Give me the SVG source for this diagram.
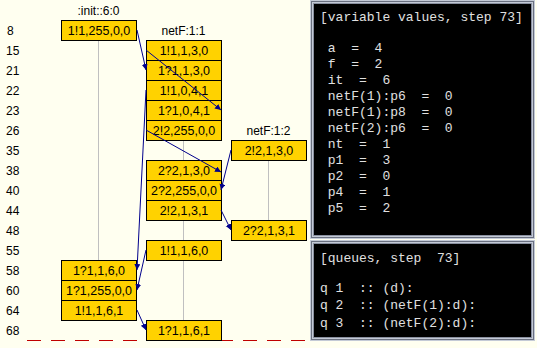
<svg xmlns="http://www.w3.org/2000/svg" width="537" height="348" viewBox="0 0 537 348">
<style>
.bg{fill:#fffff0}
.box rect{fill:#ffd200;stroke:#000;stroke-width:1}
.box text{font-family:"Liberation Sans",Arial,sans-serif;font-size:12.5px;fill:#000;text-anchor:middle}
.title{font-family:"Liberation Sans",Arial,sans-serif;font-size:12px;fill:#000;text-anchor:middle}
.row{font-family:"Liberation Sans",Arial,sans-serif;font-size:12px;fill:#000}
.life{stroke:#c0c0c0;stroke-width:1}
.conn line{stroke:#00008c;stroke-width:1;marker-end:url(#ah)}
.mono{font-family:"Liberation Mono","Courier New",monospace;font-size:13px;fill:#e0e0e0;white-space:pre}
</style>
<defs>
<marker id="ah" markerUnits="userSpaceOnUse" markerWidth="8" markerHeight="8" refX="6" refY="3" orient="auto">
<path d="M0,0 L6,3 L0,6 Z" fill="#00008c"/>
</marker>
</defs>
<rect class="bg" x="0" y="0" width="537" height="348"/>

<g id="row-labels">
<text class="row" x="7" y="35">8</text>
<text class="row" x="6" y="55">15</text>
<text class="row" x="6" y="75">21</text>
<text class="row" x="6" y="95">22</text>
<text class="row" x="6" y="115">23</text>
<text class="row" x="6" y="135">26</text>
<text class="row" x="6" y="155">35</text>
<text class="row" x="6" y="175">38</text>
<text class="row" x="6" y="195">40</text>
<text class="row" x="6" y="215">44</text>
<text class="row" x="6" y="235">48</text>
<text class="row" x="6" y="255">55</text>
<text class="row" x="6" y="275">58</text>
<text class="row" x="6" y="295">60</text>
<text class="row" x="6" y="315">64</text>
<text class="row" x="6" y="335">68</text>
</g>

<line x1="27" y1="340.5" x2="306" y2="340.5" stroke="#c00000" stroke-width="1" stroke-dasharray="14,10"/>

<g id="lifelines">
<line class="life" x1="98.5" y1="40" x2="98.5" y2="260"/>
<line class="life" x1="183.5" y1="40" x2="183.5" y2="320"/>
<line class="life" x1="268.5" y1="160" x2="268.5" y2="220"/>
</g>

<g id="init">
<text class="title" x="98.5" y="15">:init::6:0</text>
<g class="box"><rect x="61.5" y="20.5" width="75" height="20"/><text x="99" y="35">1!1,255,0,0</text></g>
<g class="box"><rect x="61.5" y="260.5" width="75" height="20"/><text x="99" y="275">1?1,1,6,0</text></g>
<g class="box"><rect x="61.5" y="280.5" width="75" height="20"/><text x="99" y="295">1?1,255,0,0</text></g>
<g class="box"><rect x="61.5" y="300.5" width="75" height="20"/><text x="99" y="315">1!1,1,6,1</text></g>
</g>

<g id="netF-1-1">
<text class="title" x="183.5" y="35">netF:1:1</text>
<g class="box"><rect x="146.5" y="40.5" width="75" height="20"/><text x="184" y="55">1!1,1,3,0</text></g>
<g class="box"><rect x="146.5" y="60.5" width="75" height="20"/><text x="184" y="75">1?1,1,3,0</text></g>
<g class="box"><rect x="146.5" y="80.5" width="75" height="20"/><text x="184" y="95">1!1,0,4,1</text></g>
<g class="box"><rect x="146.5" y="100.5" width="75" height="20"/><text x="184" y="115">1?1,0,4,1</text></g>
<g class="box"><rect x="146.5" y="120.5" width="75" height="20"/><text x="184" y="135">2!2,255,0,0</text></g>
<g class="box"><rect x="146.5" y="160.5" width="75" height="20"/><text x="184" y="175">2?2,1,3,0</text></g>
<g class="box"><rect x="146.5" y="180.5" width="75" height="20"/><text x="184" y="195">2?2,255,0,0</text></g>
<g class="box"><rect x="146.5" y="200.5" width="75" height="20"/><text x="184" y="215">2!2,1,3,1</text></g>
<g class="box"><rect x="146.5" y="240.5" width="75" height="20"/><text x="184" y="255">1!1,1,6,0</text></g>
<g class="box"><rect x="146.5" y="320.5" width="75" height="20"/><text x="184" y="335">1?1,1,6,1</text></g>
</g>

<g id="netF-1-2">
<text class="title" x="268.5" y="135">netF:1:2</text>
<g class="box"><rect x="231.5" y="140.5" width="75" height="20"/><text x="269" y="155">2!2,1,3,0</text></g>
<g class="box"><rect x="231.5" y="220.5" width="75" height="20"/><text x="269" y="235">2?2,1,3,1</text></g>
</g>

<g id="connectors" class="conn">
<line x1="137" y1="30" x2="146" y2="70"/>
<line x1="146" y1="50" x2="221" y2="110"/>
<line x1="146" y1="90" x2="137" y2="270"/>
<line x1="146" y1="130" x2="221" y2="172"/>
<line x1="231" y1="150" x2="221" y2="190"/>
<line x1="221" y1="210" x2="231" y2="230"/>
<line x1="146" y1="250" x2="137" y2="290"/>
<line x1="137" y1="310" x2="146" y2="330"/>
</g>

<g id="variables-panel">
<rect x="310" y="0" width="225" height="239" fill="#c4cad6"/>
<rect x="311.5" y="1.5" width="222" height="236" fill="none" stroke="#6a7080"/>
<rect x="313.5" y="3.5" width="218" height="232" fill="#000" stroke="#8a90a0"/>
<text class="mono" x="320" y="21">[variable values, step 73]</text>
<text class="mono" x="320" y="52"> a  =  4</text>
<text class="mono" x="320" y="68"> f  =  2</text>
<text class="mono" x="320" y="84"> it  =  6</text>
<text class="mono" x="320" y="100"> netF(1):p6  =  0</text>
<text class="mono" x="320" y="116"> netF(1):p8  =  0</text>
<text class="mono" x="320" y="132"> netF(2):p6  =  0</text>
<text class="mono" x="320" y="148"> nt  =  1</text>
<text class="mono" x="320" y="164"> p1  =  3</text>
<text class="mono" x="320" y="180"> p2  =  0</text>
<text class="mono" x="320" y="196"> p4  =  1</text>
<text class="mono" x="320" y="212"> p5  =  2</text>
</g>

<g id="queues-panel">
<rect x="310" y="240" width="225" height="101" fill="#c4cad6"/>
<rect x="311.5" y="241.5" width="222" height="98" fill="none" stroke="#6a7080"/>
<rect x="313.5" y="243.5" width="218" height="94" fill="#000" stroke="#8a90a0"/>
<text class="mono" x="320" y="262">[queues, step  73]</text>
<text class="mono" x="320" y="292">q 1  :: (d):</text>
<text class="mono" x="320" y="309">q 2  :: (netF(1):d):</text>
<text class="mono" x="320" y="327">q 3  :: (netF(2):d):</text>
</g>
</svg>
